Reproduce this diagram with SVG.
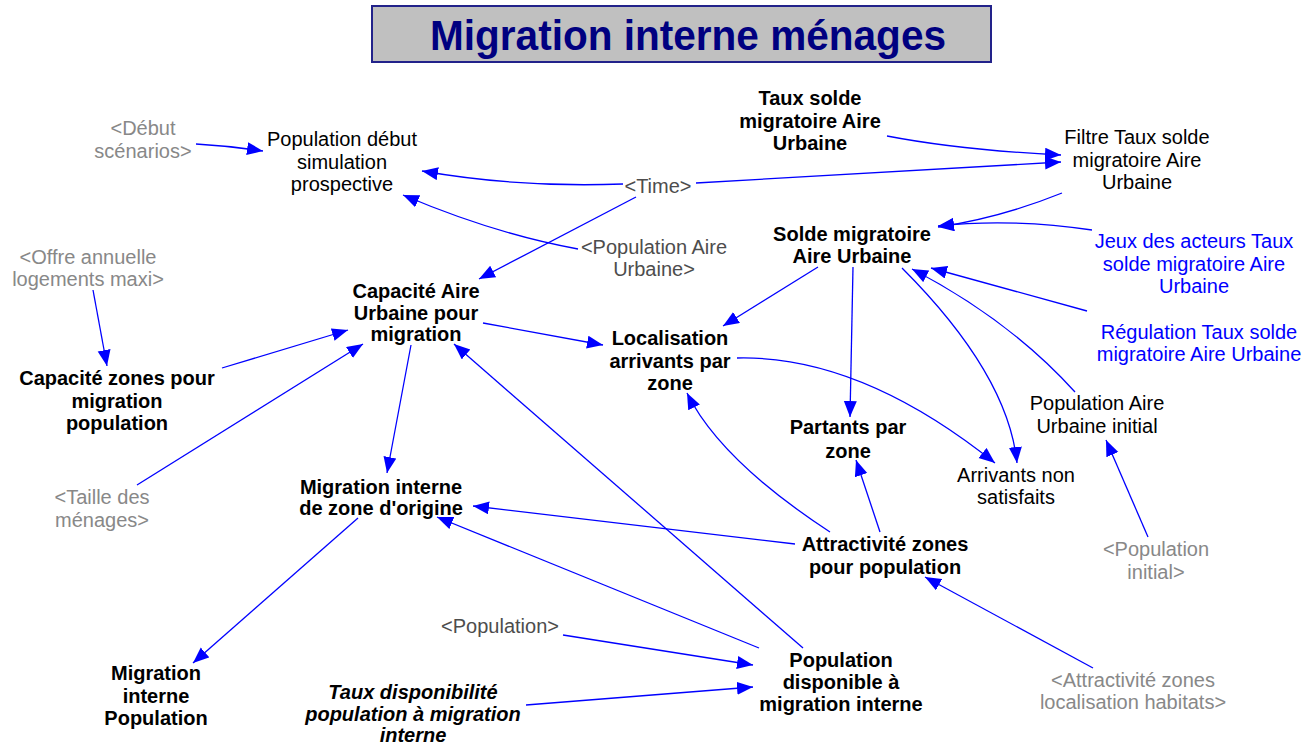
<svg xmlns="http://www.w3.org/2000/svg" width="1311" height="745" viewBox="0 0 1311 745">
  <style>
    text { font-family: "Liberation Sans", Arial, sans-serif; font-size: 20px; text-anchor: middle; fill: #000; }
    .b { font-weight: bold; }
    .bi { font-weight: bold; font-style: italic; }
    .shadow { fill: #888888; }
    .shadow2 { fill: #4d4d4d; }
    .ctl { fill: #0000ff; }
    .title { font-size: 42px; font-weight: bold; fill: #000080; }
    .link { fill: none; stroke: #0000ff; stroke-width: 1.3; marker-end: url(#arrow); }
  </style>
  <defs>
    <marker id="arrow" markerUnits="userSpaceOnUse" markerWidth="17" markerHeight="14" refX="16" refY="6.5" orient="auto">
      <path d="M0,0 L16,6.5 L0,13 z" fill="#0000ff"/>
    </marker>
  </defs>

  <rect width="1311" height="745" fill="#ffffff"/>

  <!-- title banner -->
  <g id="title">
    <rect x="372" y="6" width="619" height="56" fill="#c0c0c0" stroke="#22228a" stroke-width="2"/>
    <text class="title" x="688" y="50" textLength="516" lengthAdjust="spacingAndGlyphs">Migration interne ménages</text>
  </g>

  <!-- causal links -->
  <g id="links">
    <path class="link" d="M196,144 Q230,146 263,151"/>
    <path class="link" d="M623,184 Q520,188 422,171"/>
    <path class="link" d="M578,249 Q495,234 403,195"/>
    <path class="link" d="M696,183 L1061,162"/>
    <path class="link" d="M887,136 Q960,150 1061,155"/>
    <path class="link" d="M636,197 L479,279"/>
    <path class="link" d="M1062,193 Q1000,218 938,227"/>
    <path class="link" d="M1092,230 Q1010,218 938,226"/>
    <path class="link" d="M1087,311 L931,268"/>
    <path class="link" d="M1075,392 Q1010,320 912,269"/>
    <path class="link" d="M902,268 Q1008,374 1017,463"/>
    <path class="link" d="M818,267 L723,326"/>
    <path class="link" d="M853,267 L850,417"/>
    <path class="link" d="M483,323 L603,345"/>
    <path class="link" d="M737,358 Q860,355 995,463"/>
    <path class="link" d="M830,532 Q720,460 687,393"/>
    <path class="link" d="M880,532 L856,460"/>
    <path class="link" d="M795,544 L473,506"/>
    <path class="link" d="M759,648 L437,517"/>
    <path class="link" d="M803,648 L454,344"/>
    <path class="link" d="M222,368 L348,330"/>
    <path class="link" d="M137,485 L363,344"/>
    <path class="link" d="M93,290 L107,366"/>
    <path class="link" d="M411,345 L387,473"/>
    <path class="link" d="M358,518 L193,663"/>
    <path class="link" d="M563,635 L753,665"/>
    <path class="link" d="M526,705 L753,687"/>
    <path class="link" d="M1093,668 L925,577"/>
    <path class="link" d="M1148,537 L1106,440"/>
  </g>

  <!-- variables -->
  <g id="debut-scenarios"><text class="shadow" x="143" y="135">&lt;Début<tspan x="143" dy="23">scénarios&gt;</tspan></text></g>
  <g id="population-debut-simulation"><text x="342" y="146">Population début<tspan x="342" dy="22.5">simulation</tspan><tspan x="342" dy="22.5">prospective</tspan></text></g>
  <g id="taux-solde-migratoire"><text class="b" x="810" y="105">Taux solde<tspan x="810" dy="22.5">migratoire Aire</tspan><tspan x="810" dy="22.5">Urbaine</tspan></text></g>
  <g id="filtre-taux-solde"><text x="1137" y="144">Filtre Taux solde<tspan x="1137" dy="22.5">migratoire Aire</tspan><tspan x="1137" dy="22.5">Urbaine</tspan></text></g>
  <g id="time"><text class="shadow2" x="658" y="193">&lt;Time&gt;</text></g>
  <g id="population-aire-urbaine"><text class="shadow2" x="654" y="254">&lt;Population Aire<tspan x="654" dy="22">Urbaine&gt;</tspan></text></g>
  <g id="solde-migratoire"><text class="b" x="852" y="241">Solde migratoire<tspan x="852" dy="22">Aire Urbaine</tspan></text></g>
  <g id="jeux-acteurs"><text class="ctl" x="1194" y="248">Jeux des acteurs Taux<tspan x="1194" dy="22.5">solde migratoire Aire</tspan><tspan x="1194" dy="22.5">Urbaine</tspan></text></g>
  <g id="regulation"><text class="ctl" x="1199" y="339">Régulation Taux solde<tspan x="1199" dy="22">migratoire Aire Urbaine</tspan></text></g>
  <g id="offre-logements"><text class="shadow" x="88" y="264">&lt;Offre annuelle<tspan x="88" dy="22">logements maxi&gt;</tspan></text></g>
  <g id="capacite-aire-urbaine"><text class="b" x="416" y="298">Capacité Aire<tspan x="416" dy="21.5">Urbaine pour</tspan><tspan x="416" dy="21.5">migration</tspan></text></g>
  <g id="capacite-zones"><text class="b" x="117" y="385">Capacité zones pour<tspan x="117" dy="22.5">migration</tspan><tspan x="117" dy="22.5">population</tspan></text></g>
  <g id="taille-menages"><text class="shadow" x="102" y="504">&lt;Taille des<tspan x="102" dy="23">ménages&gt;</tspan></text></g>
  <g id="migration-zone-origine"><text class="b" x="381" y="494">Migration interne<tspan x="381" dy="20.5">de zone d'origine</tspan></text></g>
  <g id="localisation-arrivants"><text class="b" x="670" y="345">Localisation<tspan x="670" dy="22.5">arrivants par</tspan><tspan x="670" dy="22.5">zone</tspan></text></g>
  <g id="partants-zone"><text class="b" x="848" y="434">Partants par<tspan x="848" dy="23.5">zone</tspan></text></g>
  <g id="arrivants-non-satisfaits"><text x="1016" y="482">Arrivants non<tspan x="1016" dy="21.5">satisfaits</tspan></text></g>
  <g id="population-aire-initial"><text x="1097" y="410">Population Aire<tspan x="1097" dy="23">Urbaine initial</tspan></text></g>
  <g id="attractivite-zones"><text class="b" x="885" y="551">Attractivité zones<tspan x="885" dy="23">pour population</tspan></text></g>
  <g id="population-initial"><text class="shadow" x="1156" y="556">&lt;Population<tspan x="1156" dy="23">initial&gt;</tspan></text></g>
  <g id="attractivite-habitats"><text class="shadow" x="1133" y="687">&lt;Attractivité zones<tspan x="1133" dy="22">localisation habitats&gt;</tspan></text></g>
  <g id="population-disponible"><text class="b" x="841" y="667">Population<tspan x="841" dy="22">disponible à</tspan><tspan x="841" dy="22">migration interne</tspan></text></g>
  <g id="population"><text class="shadow2" x="500" y="633">&lt;Population&gt;</text></g>
  <g id="taux-disponibilite"><text class="bi" x="413" y="699">Taux disponibilité<tspan x="413" dy="21.5">population à migration</tspan><tspan x="413" dy="21.5">interne</tspan></text></g>
  <g id="migration-interne-population"><text class="b" x="156" y="680">Migration<tspan x="156" dy="23">interne</tspan><tspan x="156" dy="22">Population</tspan></text></g>
</svg>
